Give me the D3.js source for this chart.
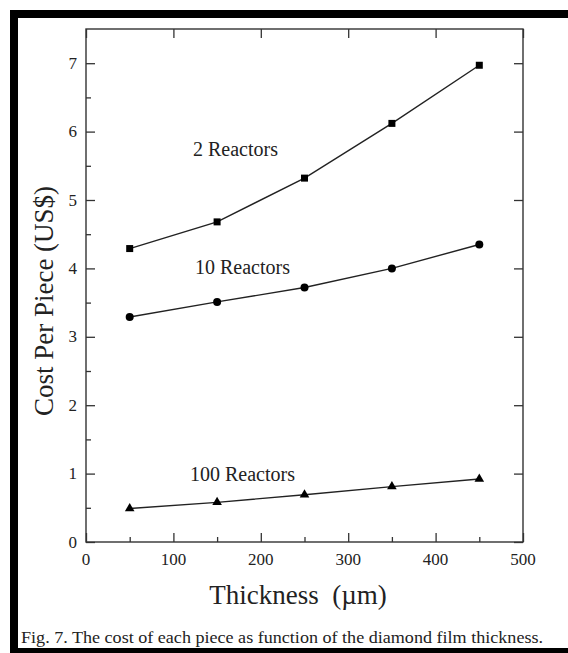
<!DOCTYPE html>
<html>
<head>
<meta charset="utf-8">
<script src="https://cdn.jsdelivr.net/npm/d3@7"></script>
<style>
  body { margin: 0; background: #fff; }
  svg { display: block; }
  text { font-family: "Liberation Serif", "Times New Roman", serif; fill: #222; }
</style>
</head>
<body>
<div id="chart-area"></div>
<script>

var width = 568,
	height = 653;

var margin = {top: 29, right: 45, bottom: 111, left: 86};

// data
var thickness = [50, 150, 250, 350, 450];
var reactors2 = [4.29, 4.68, 5.32, 6.12, 6.97];
var reactors10 = [3.29, 3.51, 3.72, 4.0, 4.35];
var reactors100 = [0.49, 0.58, 0.69, 0.81, 0.92];
var seriesNames = ["2 Reactors", "10 Reactors", "100 Reactors"];
var xTicks = [0, 100, 200, 300, 400, 500];
var yTicks = [0, 1, 2, 3, 4, 5, 6, 7];

var svg = d3.select("#chart-area").append("svg")
	.attr("width", width)
	.attr("height", height);

// black frame (top, left, bottom visible)
svg.append("rect").attr("x", 10).attr("y", 10).attr("width", 558).attr("height", 8).attr("fill", "#000");
svg.append("rect").attr("x", 10).attr("y", 10).attr("width", 8).attr("height", 643).attr("fill", "#000");
svg.append("rect").attr("x", 10).attr("y", 648).attr("width", 558).attr("height", 5).attr("fill", "#000");

var x = d3.scaleLinear()
	.domain([0, 500])
	.range([margin.left, width - margin.right]);

var y = d3.scaleLinear()
	.domain([0, 7.5])
	.range([height - margin.bottom, margin.top]);

var g = svg.append("g");

// plot box
g.append("rect")
	.attr("x", x(0))
	.attr("y", y(7.5))
	.attr("width", x(500) - x(0))
	.attr("height", y(0) - y(7.5))
	.attr("fill", "none")
	.attr("stroke", "#333")
	.attr("stroke-width", 1.4);

// inward ticks
var xMinor = d3.range(50, 500, 100);
var yMinor = d3.range(0.5, 7.5, 1);

var bottomAxis = d3.axisBottom(x).tickValues(xTicks).tickSize(-9).tickFormat("");
var bottomMinor = d3.axisBottom(x).tickValues(xMinor).tickSize(-5).tickFormat("");
var topAxis = d3.axisTop(x).tickValues(xTicks).tickSize(-9).tickFormat("");
var leftAxis = d3.axisLeft(y).tickValues(yTicks).tickSize(-9).tickFormat("");
var leftMinor = d3.axisLeft(y).tickValues(yMinor).tickSize(-5).tickFormat("");
var rightAxis = d3.axisRight(y).tickValues(yTicks).tickSize(-9).tickFormat("");

function drawAxis(ax, tx, ty) {
	var a = g.append("g")
		.attr("transform", "translate(" + tx + "," + ty + ")")
		.call(ax);
	a.select(".domain").remove();
	a.selectAll("line").attr("stroke", "#333").attr("stroke-width", 1.3);
}

drawAxis(bottomAxis, 0, y(0));
drawAxis(bottomMinor, 0, y(0));
drawAxis(topAxis, 0, y(7.5));
drawAxis(leftAxis, x(0), 0);
drawAxis(leftMinor, x(0), 0);
drawAxis(rightAxis, x(500), 0);

// tick labels
g.selectAll(".xlab")
	.data(xTicks)
	.enter()
	.append("text")
	.attr("x", function(d) { return x(d); })
	.attr("y", y(0) + 23)
	.attr("text-anchor", "middle")
	.attr("font-size", 17)
	.text(function(d) { return d; });

g.selectAll(".ylab")
	.data(yTicks)
	.enter()
	.append("text")
	.attr("x", x(0) - 9)
	.attr("y", function(d) { return y(d) + 5.5; })
	.attr("text-anchor", "end")
	.attr("font-size", 17)
	.text(function(d) { return d; });

// axis titles
svg.append("text")
	.attr("x", 298)
	.attr("y", 604)
	.attr("text-anchor", "middle")
	.attr("font-size", 27)
	.attr("xml:space", "preserve")
	.text("Thickness  (\u00b5m)");

svg.append("text")
	.attr("transform", "translate(53,301) rotate(-90)")
	.attr("text-anchor", "middle")
	.attr("font-size", 27)
	.text("Cost Per Piece (US$)");

// lines
var line = d3.line()
	.x(function(d, i) { return x(thickness[i]); })
	.y(function(d) { return y(d); });

[reactors2, reactors10, reactors100].forEach(function(s) {
	g.append("path")
		.datum(s)
		.attr("d", line)
		.attr("fill", "none")
		.attr("stroke", "#222")
		.attr("stroke-width", 1.4);
});

// markers
g.selectAll(".sq")
	.data(reactors2)
	.enter()
	.append("rect")
	.attr("x", function(d, i) { return x(thickness[i]) - 3.5; })
	.attr("y", function(d) { return y(d) - 3.5; })
	.attr("width", 7)
	.attr("height", 7)
	.attr("fill", "#000");

g.selectAll(".circ")
	.data(reactors10)
	.enter()
	.append("circle")
	.attr("cx", function(d, i) { return x(thickness[i]); })
	.attr("cy", function(d) { return y(d); })
	.attr("r", 4)
	.attr("fill", "#000");

var tri = d3.symbol().type(d3.symbolTriangle).size(40);
g.selectAll(".tri")
	.data(reactors100)
	.enter()
	.append("path")
	.attr("d", tri)
	.attr("transform", function(d, i) { return "translate(" + x(thickness[i]) + "," + y(d) + ")"; })
	.attr("fill", "#000");

// series labels
var labelPos = [[193, 156], [195, 274], [190, 481]];
seriesNames.forEach(function(n, i) {
	svg.append("text")
		.attr("x", labelPos[i][0])
		.attr("y", labelPos[i][1])
		.attr("font-size", 20)
		.text(n);
});

// caption
svg.append("text")
	.attr("x", 21)
	.attr("y", 643)
	.attr("font-size", 16)
	.attr("textLength", 522)
	.attr("lengthAdjust", "spacingAndGlyphs")
	.text("Fig. 7.  The cost of each piece as function of the diamond film thickness.");

</script>
</body>
</html>
